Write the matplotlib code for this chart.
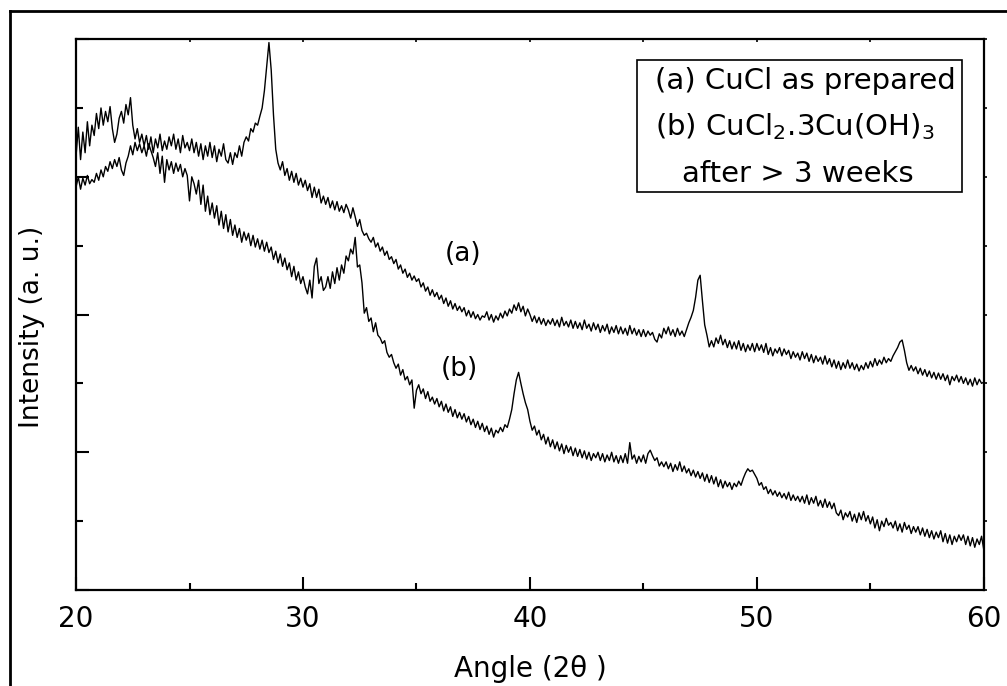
import numpy as np
import matplotlib
matplotlib.use("Agg")
import matplotlib.pyplot as plt
from matplotlib.lines import Line2D
from matplotlib.ticker import MultipleLocator, NullFormatter

plt.rcParams['font.family'] = ['DejaVu Sans']
plt.rcParams['mathtext.fontset'] = 'dejavusans'

# diffraction angle, 0.1 deg steps
angle = np.round(np.arange(20.0, 60.0001, 0.1), 1)

# (a) CuCl as prepared, one row per degree
cucl = [
    6.30, 6.72, 6.25, 6.65, 6.35, 6.80, 6.45, 6.75, 6.60, 6.92,
    6.70, 7.00, 6.75, 6.95, 6.80, 7.02, 6.70, 6.50, 6.62, 6.85,
    6.95, 6.78, 7.05, 6.90, 7.15, 6.75, 6.55, 6.70, 6.50, 6.62,
    6.45, 6.60, 6.40, 6.58, 6.35, 6.55, 6.42, 6.62, 6.38, 6.52,
    6.40, 6.58, 6.45, 6.62, 6.40, 6.55, 6.35, 6.60, 6.42, 6.50,
    6.38, 6.55, 6.35, 6.50, 6.30, 6.48, 6.25, 6.45, 6.30, 6.50,
    6.28, 6.45, 6.22, 6.40, 6.30, 6.48, 6.25, 6.20, 6.35, 6.18,
    6.35, 6.28, 6.45, 6.30, 6.50, 6.58, 6.52, 6.70, 6.65, 6.78,
    6.75, 6.88, 7.00, 7.25, 7.60, 7.95, 7.55, 6.90, 6.40, 6.20,
    6.10, 6.22, 6.02, 6.12, 5.95, 6.08, 5.92, 6.05, 5.88, 5.98,
    5.85, 5.95, 5.80, 5.90, 5.70, 5.85, 5.70, 5.82, 5.62, 5.72,
    5.60, 5.70, 5.55, 5.65, 5.52, 5.64, 5.50, 5.58, 5.48, 5.60,
    5.52, 5.40, 5.55, 5.42, 5.28, 5.38, 5.22, 5.15, 5.18, 5.10,
    5.05, 5.12, 4.98, 5.04, 4.92, 4.98, 4.86, 4.92, 4.80, 4.84,
    4.74, 4.80, 4.66, 4.72, 4.60, 4.66, 4.54, 4.60, 4.50, 4.56,
    4.48, 4.52, 4.40, 4.46, 4.34, 4.40, 4.28, 4.36, 4.26, 4.32,
    4.22, 4.28, 4.16, 4.24, 4.12, 4.20, 4.08, 4.16, 4.06, 4.12,
    4.04, 4.10, 3.98, 4.06, 3.96, 4.04, 3.94, 4.00, 3.92, 3.98,
    3.96, 4.04, 3.92, 4.00, 3.89, 3.98, 3.92, 4.02, 3.95, 4.05,
    3.98, 4.08, 4.02, 4.14, 4.06, 4.17, 4.04, 4.12, 3.98, 4.08,
    4.00, 3.90, 3.98, 3.88, 3.96, 3.86, 3.94, 3.84, 3.92, 3.86,
    3.94, 3.84, 3.92, 3.82, 3.96, 3.84, 3.90, 3.82, 3.92, 3.80,
    3.90, 3.80, 3.88, 3.78, 3.92, 3.80, 3.86, 3.76, 3.88, 3.78,
    3.86, 3.74, 3.84, 3.76, 3.86, 3.72, 3.82, 3.74, 3.84, 3.72,
    3.82, 3.72, 3.80, 3.70, 3.84, 3.72, 3.80, 3.70, 3.78, 3.68,
    3.78, 3.68, 3.76, 3.70, 3.74, 3.64, 3.60, 3.72, 3.66, 3.80,
    3.72, 3.82, 3.70, 3.78, 3.68, 3.80, 3.70, 3.76, 3.68, 3.78,
    3.88, 3.96, 4.06, 4.25, 4.50, 4.57, 4.20, 3.85, 3.70, 3.53,
    3.62, 3.53, 3.66, 3.58, 3.70, 3.56, 3.64, 3.52, 3.62, 3.50,
    3.60, 3.50, 3.62, 3.48, 3.58, 3.46, 3.56, 3.48, 3.58, 3.46,
    3.58, 3.48, 3.56, 3.45, 3.58, 3.42, 3.52, 3.40, 3.50, 3.44,
    3.52, 3.40, 3.50, 3.42, 3.48, 3.36, 3.46, 3.38, 3.44, 3.34,
    3.46, 3.36, 3.44, 3.32, 3.42, 3.30, 3.40, 3.32, 3.38, 3.28,
    3.40, 3.28, 3.36, 3.24, 3.34, 3.22, 3.32, 3.20, 3.30, 3.22,
    3.34, 3.22, 3.30, 3.20, 3.28, 3.18, 3.26, 3.20, 3.30, 3.22,
    3.32, 3.24, 3.36, 3.26, 3.34, 3.28, 3.38, 3.30, 3.36, 3.32,
    3.40, 3.46, 3.52, 3.60, 3.63, 3.48, 3.30, 3.19, 3.26, 3.18,
    3.24, 3.14, 3.22, 3.12, 3.20, 3.10, 3.18, 3.08, 3.16, 3.06,
    3.15, 3.06, 3.14, 3.04, 3.12, 2.98, 3.10, 3.04, 3.12, 3.02,
    3.10, 3.00, 3.08, 2.98, 3.06, 2.96, 3.08, 2.98, 3.06, 3.00,
    3.02,
]

# (b) CuCl2.3Cu(OH)3 after > 3 weeks
basic_chloride = [
    5.85, 6.00, 5.82, 5.98, 5.88, 6.02, 5.90, 5.96, 5.92, 6.05,
    5.95, 6.10, 6.00, 6.15, 6.08, 6.22, 6.12, 6.25, 6.15, 6.28,
    6.10, 6.02, 6.20, 6.30, 6.45, 6.32, 6.50, 6.38, 6.48, 6.35,
    6.45, 6.30, 6.48, 6.38, 6.28, 6.15, 6.35, 6.05, 6.30, 5.92,
    6.25, 6.10, 6.22, 6.05, 6.20, 6.08, 6.18, 6.00, 6.12, 6.02,
    5.65, 6.00, 5.90, 5.75, 5.95, 5.60, 5.88, 5.50, 5.72, 5.45,
    5.62, 5.40, 5.58, 5.30, 5.50, 5.25, 5.45, 5.20, 5.38, 5.15,
    5.30, 5.12, 5.25, 5.05, 5.20, 5.08, 5.18, 5.00, 5.15, 4.98,
    5.10, 4.95, 5.08, 4.92, 5.05, 4.90, 4.98, 4.80, 4.92, 4.75,
    4.88, 4.70, 4.82, 4.65, 4.75, 4.55, 4.70, 4.50, 4.62, 4.45,
    4.55, 4.40, 4.30, 4.50, 4.24, 4.70, 4.82, 4.45, 4.55, 4.35,
    4.40, 4.55, 4.38, 4.62, 4.45, 4.68, 4.50, 4.72, 4.60, 4.85,
    4.78, 4.95, 4.88, 5.12, 4.69, 4.72, 4.46, 4.02, 4.10, 3.90,
    3.95, 3.75, 3.88, 3.70, 3.66, 3.58, 3.62, 3.45, 3.38, 3.42,
    3.30, 3.22, 3.28, 3.12, 3.20, 3.05, 3.10, 2.98, 3.05, 2.64,
    2.90, 2.98, 2.85, 2.92, 2.78, 2.88, 2.74, 2.80, 2.70, 2.78,
    2.66, 2.74, 2.60, 2.70, 2.58, 2.66, 2.52, 2.62, 2.50, 2.58,
    2.48, 2.56, 2.44, 2.52, 2.40, 2.48, 2.36, 2.45, 2.33, 2.42,
    2.30, 2.38, 2.26, 2.35, 2.22, 2.32, 2.28, 2.36, 2.30, 2.40,
    2.36, 2.48, 2.62, 2.85, 3.05, 3.16, 3.00, 2.85, 2.72, 2.62,
    2.45, 2.32, 2.38, 2.25, 2.32, 2.18, 2.26, 2.12, 2.22, 2.08,
    2.18, 2.05, 2.15, 2.02, 2.12, 1.98, 2.10, 2.00, 2.08, 1.95,
    2.06, 1.94, 2.04, 1.92, 2.02, 1.90, 2.00, 1.88, 1.98, 1.92,
    2.00, 1.88, 1.98, 1.86, 1.96, 1.88, 2.00, 1.86, 1.95, 1.84,
    1.95, 1.85, 1.98, 1.84, 2.14, 1.90, 1.96, 1.84, 1.94, 1.86,
    1.96, 1.84, 1.98, 2.03, 1.95, 1.88, 1.92, 1.80, 1.86, 1.79,
    1.86, 1.76, 1.84, 1.72, 1.82, 1.74, 1.86, 1.72, 1.80, 1.70,
    1.76, 1.66, 1.74, 1.64, 1.72, 1.62, 1.70, 1.58, 1.68, 1.56,
    1.66, 1.54, 1.64, 1.50, 1.60, 1.48, 1.58, 1.50, 1.56, 1.46,
    1.55, 1.50, 1.58, 1.52, 1.62, 1.70, 1.76, 1.72, 1.74, 1.68,
    1.62, 1.52, 1.56, 1.46, 1.50, 1.40, 1.46, 1.38, 1.44, 1.36,
    1.42, 1.34, 1.40, 1.32, 1.42, 1.30, 1.38, 1.30, 1.36, 1.28,
    1.36, 1.26, 1.38, 1.24, 1.34, 1.26, 1.36, 1.22, 1.30, 1.20,
    1.32, 1.20, 1.28, 1.18, 1.26, 1.12, 1.08, 1.16, 1.02, 1.12,
    1.06, 1.14, 1.00, 1.10, 0.98, 1.12, 1.02, 1.14, 1.00, 1.08,
    0.96, 1.06, 0.90, 1.02, 0.86, 1.00, 0.92, 1.04, 0.94, 0.98,
    0.90, 1.00, 0.86, 0.96, 0.84, 0.98, 0.88, 0.94, 0.82, 0.92,
    0.84, 0.92, 0.80, 0.90, 0.78, 0.88, 0.76, 0.86, 0.74, 0.84,
    0.76, 0.86, 0.70, 0.82, 0.68, 0.80, 0.66, 0.78, 0.70, 0.80,
    0.72, 0.80, 0.66, 0.78, 0.64, 0.76, 0.62, 0.74, 0.66, 0.78,
    0.58,
]

fig = plt.figure(figsize=(10.07, 6.86), dpi=100)
ax = fig.add_axes([0.0755, 0.140, 0.9015, 0.803])

ax.plot(angle, cucl, color='black', lw=1.0)
ax.plot(angle, basic_chloride, color='black', lw=1.0)

ax.set_xlim(20, 60)
ax.set_ylim(0, 8)

for s in ax.spines.values():
    s.set_linewidth(1.6)

ax.xaxis.set_major_locator(MultipleLocator(10))
ax.xaxis.set_minor_locator(MultipleLocator(5))
ax.yaxis.set_major_locator(MultipleLocator(2))
ax.yaxis.set_minor_locator(MultipleLocator(1))
ax.yaxis.set_major_formatter(NullFormatter())

ax.tick_params(which='major', direction='in', length=9.5, width=1.5,
               labelsize=20, pad=11, top=False, right=False)
ax.tick_params(which='minor', direction='in', length=5, width=1.5,
               top=False, right=False)

# tiny marks on the top and right edges
sec_x = ax.secondary_xaxis('top')
sec_x.xaxis.set_major_locator(MultipleLocator(5))
sec_x.tick_params(direction='in', length=2, width=1.2, labeltop=False)
sec_x.spines['top'].set_visible(False)
sec_y = ax.secondary_yaxis('right')
sec_y.yaxis.set_major_locator(MultipleLocator(1))
sec_y.tick_params(direction='out', length=2, width=1.2, labelright=False)
sec_y.spines['right'].set_visible(False)

ax.set_xlabel('Angle (2θ )', fontsize=20, labelpad=16)
ax.set_ylabel('Intensity (a. u.)', fontsize=19)
ax.yaxis.set_label_coords(-0.034, 0.477)

ax.text(37.05, 4.88, '(a)', fontsize=19, ha='center', va='center')
ax.text(36.87, 3.21, '(b)', fontsize=19, ha='center', va='center')

# sample key box
ax.add_patch(plt.Rectangle((0.618, 0.722), 0.358, 0.240, transform=ax.transAxes,
                           fill=False, lw=1.2, ec='black'))
ax.text(0.638, 0.909, '(a) CuCl as prepared', transform=ax.transAxes,
        fontsize=21, va='baseline', ha='left')
ax.text(0.638, 0.826, '(b) CuCl$_\\mathrm{2}$.3Cu(OH)$_\\mathrm{3}$',
        transform=ax.transAxes, fontsize=21, va='baseline', ha='left')
ax.text(0.668, 0.740, 'after > 3 weeks', transform=ax.transAxes,
        fontsize=21, va='baseline', ha='left')

# outer frame
fig.add_artist(Line2D([10 / 1007, 10 / 1007], [0, 1 - 11 / 686], color='black', lw=2))
fig.add_artist(Line2D([10 / 1007, 1], [1 - 11 / 686, 1 - 11 / 686], color='black', lw=2))

fig.savefig('out.png', dpi=100)
